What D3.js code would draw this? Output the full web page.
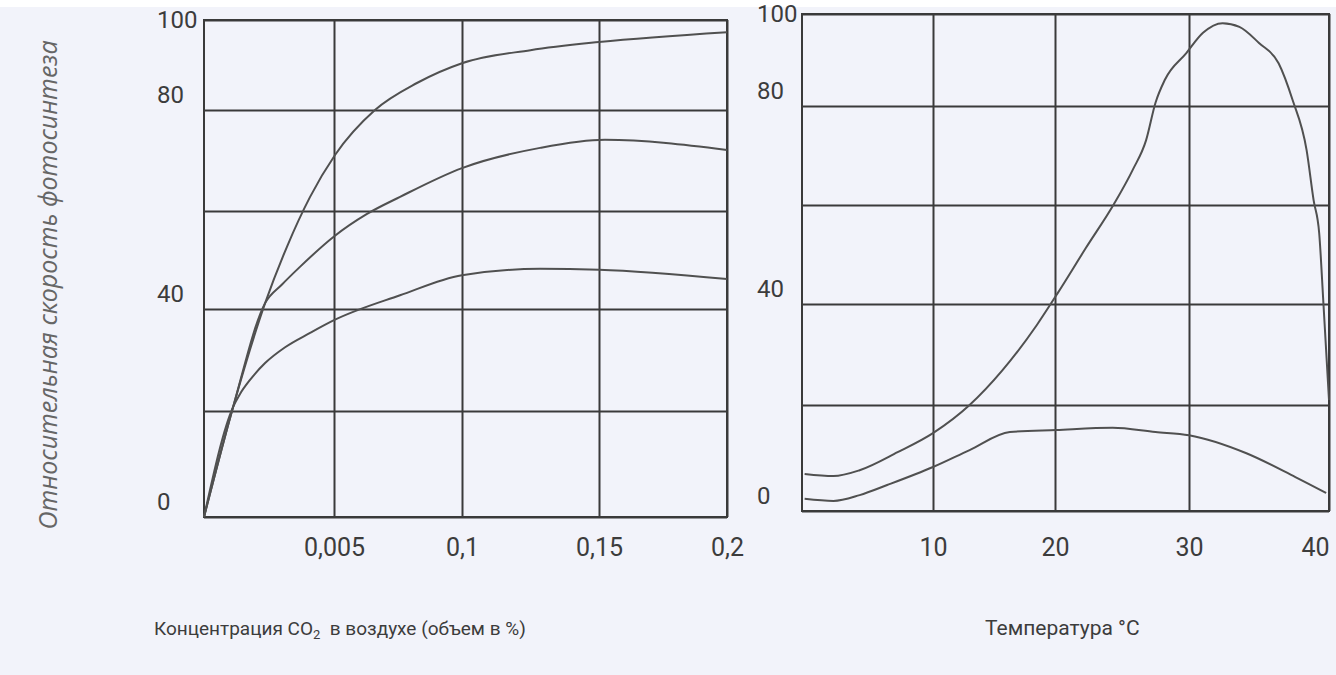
<!DOCTYPE html>
<meta charset="utf-8">
<html>
<!-- Load d3.js -->
<script src="https://d3js.org/d3.v7.min.js"></script>
<style>
    body { margin: 0; background: #f2f3fa; }
    text { font-family: Roboto, "Open Sans", sans-serif; fill: #3c3c3c; }
    .grid line, .grid path { stroke: #3a3a3a; stroke-width: 2; }
    .curve { fill: none; stroke: #505050; stroke-width: 2; }
</style>
<body>
<div id="my_dataviz"></div>
<script>

    // ---- data: CO2 panel (x = % CO2, y = relative rate) ----
    const co2Ticks = [0.05, 0.1, 0.15, 0.2];
    const co2TickLabels = ["0,005", "0,1", "0,15", "0,2"];
    const co2HighX = [0, 0.0112, 0.0235, 0.0319, 0.0408, 0.0504, 0.066, 0.0824, 0.1, 0.125, 0.15, 0.2];
    const co2HighY = [0, 20.8, 41.2, 52.7, 62.8, 71.1, 80, 86, 90.4, 93.3, 95.1, 97.3];
    const co2MidX = [0, 0.0112, 0.0235, 0.03, 0.0369, 0.05, 0.0629, 0.0758, 0.1, 0.1285, 0.1523, 0.2];
    const co2MidY = [0, 20.8, 41.2, 45, 48.6, 54.8, 59.4, 62.8, 68.5, 72.5, 74.1, 72.1];
    const co2LowX = [0, 0.0112, 0.0138, 0.0177, 0.0235, 0.0312, 0.0408, 0.05, 0.0758, 0.1, 0.1285, 0.15, 0.2];
    const co2LowY = [0, 20.8, 23.3, 26.1, 29.4, 32.5, 35.3, 37.8, 42.8, 46.9, 48.2, 48.0, 46.1];

    // ---- data: temperature panel ----
    const tempTicks = [10, 20, 30, 40];
    const tempTickLabels = ["10", "20", "30", "40"];
    const tempHighX = [0.2, 2.4, 4.4, 7.3, 10, 13, 15.7, 18.5, 20.2, 22.3, 24.4, 25.8, 26.8, 27.5, 28.2, 29.8, 31, 32.4, 33.6, 35, 36.4, 37.4, 38.4, 38.9, 39.3, 39.6, 40];
    const tempHighY = [7, 6.6, 7.7, 11.1, 14.7, 20, 26.9, 35.8, 42.2, 51.3, 60.2, 67.1, 73.1, 80.7, 85.7, 91.5, 95.9, 98, 97.2, 93.7, 89.3, 81.3, 71.1, 61, 54.3, 40.2, 21];
    const tempLowX = [0.2, 2.4, 4.4, 6.5, 10, 13, 16.3, 20.1, 24.3, 27.5, 30, 34.1, 37.6, 39.8];
    const tempLowY = [2.3, 1.9, 3, 4.9, 8.3, 11.5, 14.9, 15.3, 15.7, 14.9, 14.3, 10.9, 6.4, 3.4];

    // y grid values and the ones that carry a label
    const rateGrid = [0, 20, 40, 60, 80, 100];
    const rateLabels = [0, 40, 80, 100];

    const svg = d3.select("#my_dataviz")
      .append("svg")
        .attr("width", 1336)
        .attr("height", 675);

    svg.append("rect").attr("width", 1336).attr("height", 7).attr("fill", "#ffffff");

    // hand drawn grid -> piecewise scales
    const x1 = d3.scaleLinear().domain([0, 0.05, 0.1, 0.15, 0.2]).range([204, 334, 462, 599, 727]);
    const y1 = d3.scaleLinear().domain(rateGrid).range([517, 411, 309, 211, 110, 20]);
    const x2 = d3.scaleLinear().domain([0, 10, 20, 30, 40]).range([802, 933, 1055, 1189, 1329]);
    const y2 = d3.scaleLinear().domain(rateGrid).range([511, 405, 304, 205, 106, 14]);

    function panel(x, y, ticks, tickLabels, series, labelX, lastAnchor) {
      const g = svg.append("g");
      const r = x.range();
      const x0 = r[0], xE = r[r.length - 1];
      const yB = y(0), yT = y(100);

      // vertical grid
      g.append("g").attr("class", "grid")
        .attr("transform", `translate(0, ${yB})`)
        .call(d3.axisBottom(x).tickValues(ticks).tickSize(-(yB - yT)).tickFormat(""))
        .call(s => s.select(".domain").remove());
      // horizontal grid
      g.append("g").attr("class", "grid")
        .attr("transform", `translate(${x0}, 0)`)
        .call(d3.axisLeft(y).tickValues(rateGrid).tickSize(-(xE - x0)).tickFormat(""))
        .call(s => s.select(".domain").remove());
      // frame
      g.append("rect")
        .attr("x", x0).attr("y", yT)
        .attr("width", xE - x0).attr("height", yB - yT)
        .attr("fill", "none").attr("stroke", "#3a3a3a").attr("stroke-width", 2);

      // x tick labels
      g.append("g")
        .attr("transform", `translate(0, 547)`)
        .call(d3.axisBottom(x).tickValues(ticks).tickSize(0).tickFormat((d, i) => tickLabels[i]))
        .call(s => s.select(".domain").remove())
        .selectAll("text")
          .attr("y", 0).attr("dy", "0.35em")
          .attr("text-anchor", (d, i) => i == ticks.length - 1 ? lastAnchor : "middle")
          .style("font-size", "25px");

      // y tick labels (left aligned, sitting a bit above the line)
      g.append("g")
        .attr("transform", `translate(${labelX}, 0)`)
        .call(d3.axisLeft(y).tickValues(rateLabels).tickSize(0))
        .call(s => s.select(".domain").remove())
        .selectAll("text")
          .attr("x", 0)
          .attr("text-anchor", "start")
          .attr("dy", d => d == 100 ? "0.3em" : "-0.3em")
          .style("font-size", "24px");

      const line = d3.line()
        .x(d => x(d[0]))
        .y(d => y(d[1]))
        .curve(d3.curveMonotoneX);

      series.forEach(s => {
        g.append("path")
          .datum(d3.zip(s[0], s[1]))
          .attr("class", "curve")
          .attr("d", line);
      });
    }

    panel(x1, y1, co2Ticks, co2TickLabels,
      [[co2HighX, co2HighY], [co2MidX, co2MidY], [co2LowX, co2LowY]], 157, "middle");
    panel(x2, y2, tempTicks, tempTickLabels,
      [[tempHighX, tempHighY], [tempLowX, tempLowY]], 757, "end");

    // axis titles
    const t1 = svg.append("text")
      .attr("x", 154).attr("y", 635)
      .style("font-size", "19px");
    t1.append("tspan").text("Концентрация CO");
    t1.append("tspan").attr("dy", 4).style("font-size", "13px").text("2");
    t1.append("tspan").attr("dy", -4).text("\u00a0\u00a0в воздухе (объем в %)");

    svg.append("text")
      .attr("x", 985).attr("y", 635)
      .style("font-size", "21px")
      .text("Температура °C");

    svg.append("text")
      .attr("transform", "translate(57, 285) rotate(-90)")
      .attr("text-anchor", "middle")
      .style("font-size", "25px")
      .style("font-style", "italic")
      .style("font-family", "'Open Sans', sans-serif")
      .style("fill", "#666")
      .text("Относительная скорость фотосинтеза");

</script>
</body>
</html>
